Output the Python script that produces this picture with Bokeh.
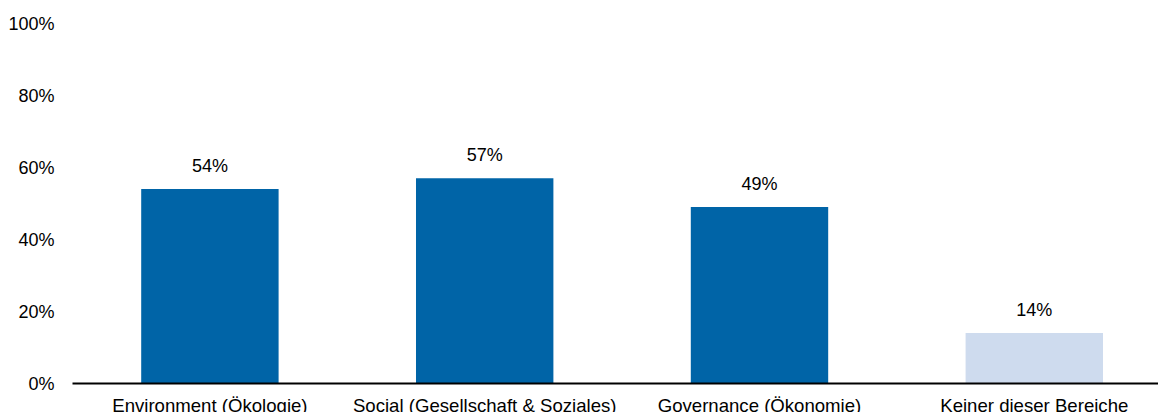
from bokeh.plotting import figure
from bokeh.models import ColumnDataSource, FixedTicker, PrintfTickFormatter, Range1d
from bokeh.core.properties import value
from bokeh.embed import file_html
from bokeh.resources import INLINE

categories = ["Environment (Ökologie)", "Social (Gesellschaft & Soziales)",
              "Governance (Ökonomie)", "Keiner dieser Bereiche"]
values = [54, 57, 49, 14]
labels = ["54%", "57%", "49%", "14%"]
colors = ["#0064A7", "#0064A7", "#0064A7", "#CEDBEE"]

xs = [i + 0.5 for i in range(len(categories))]
src = ColumnDataSource(dict(x=xs, top=values, lab=labels, color=colors))

FONT = "Liberation Sans"

p = figure(width=1158, height=423, output_backend="svg", toolbar_location=None,
           x_range=Range1d(0, 3.952), y_range=Range1d(0, 100),
           min_border_left=72, min_border_right=0, min_border_top=23, min_border_bottom=40)
p.outline_line_color = None
p.xgrid.visible = False
p.ygrid.visible = False
p.background_fill_color = "white"
p.border_fill_color = "white"

p.vbar(x="x", top="top", width=0.5, bottom=0, color="color", line_color=None, source=src)
p.text(x="x", y="top", text="lab", source=src, text_align="center",
       text_baseline="alphabetic", y_offset=-23, text_font=value(FONT),
       text_font_size="18px", text_color="#000000")

p.xaxis.ticker = FixedTicker(ticks=xs)
p.xaxis.major_label_overrides = {x: c for x, c in zip(xs, categories)}
p.xaxis.major_tick_line_color = None
p.xaxis.minor_tick_line_color = None
p.xaxis.axis_line_color = "#000000"
p.xaxis.axis_line_width = 2
p.xaxis.major_label_standoff = 5
p.xaxis.major_label_text_font = FONT
p.xaxis.major_label_text_font_size = "18.6px"
p.xaxis.major_label_text_color = "#000000"

p.yaxis.ticker = FixedTicker(ticks=[0, 20, 40, 60, 80, 100])
p.yaxis.formatter = PrintfTickFormatter(format="%d%%")
p.yaxis.axis_line_color = None
p.yaxis.major_tick_line_color = None
p.yaxis.minor_tick_line_color = None
p.yaxis.major_label_standoff = 12
p.yaxis.major_label_text_font = FONT
p.yaxis.major_label_text_font_size = "18px"
p.yaxis.major_label_text_color = "#000000"

open("out.html", "w").write(file_html(p, INLINE))
